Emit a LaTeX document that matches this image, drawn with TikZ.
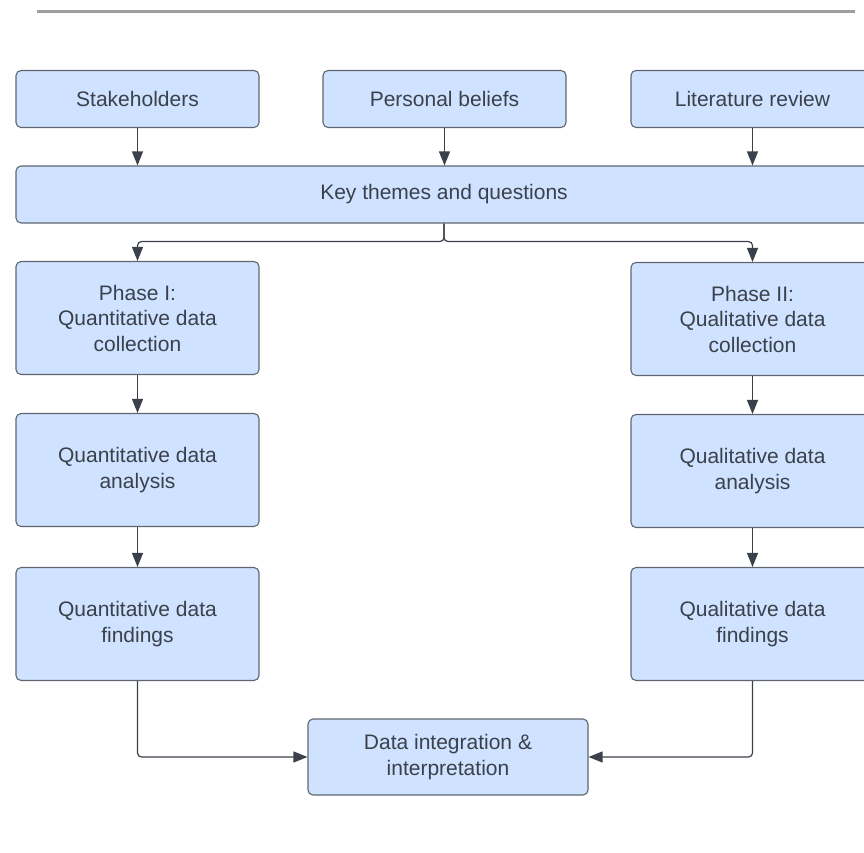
\documentclass[tikz,border=0pt]{standalone}
\usepackage{fontspec}
\setmainfont{Liberation Sans}
\usetikzlibrary{arrows.meta}
\definecolor{boxfill}{HTML}{CFE2FF}
\definecolor{boxline}{HTML}{5F6670}
\definecolor{ink}{HTML}{3B414B}
\definecolor{rulegray}{HTML}{9E9E9E}
\begin{document}
\begin{tikzpicture}[x=1pt,y=-1pt,
  card/.style={draw=boxline, fill=boxfill, line width=1.1pt, rounded corners=5pt,
    minimum width=243pt, minimum height=57pt, inner sep=0pt, align=center,
    text=ink, font=\fontsize{21}{25.5}\selectfont},
  tall/.style={card, minimum height=113pt},
  link/.style={draw=ink, line width=1.2pt, rounded corners=4pt,
    -{Triangle[length=14pt,width=11pt]}}]
\useasboundingbox (0,0) rectangle (864,853);
\clip (0,0) rectangle (864,853);

% header rule
\draw[rulegray, line width=3pt] (37,12) -- (855,12);

% sources
\node[card] (sh) at (137.5,99) {Stakeholders};
\node[card] (pb) at (444.5,99) {Personal beliefs};
\node[card] (lr) at (752.5,99) {Literature review};

% themes
\node[card, minimum width=856pt] (kt) at (444,194.5) {Key themes and questions};

% two phases
\node[tall] (p1) at (137.5,318) {Phase I:\\Quantitative data\\collection};
\node[tall] (qa1) at (137.5,470) {Quantitative data\\analysis};
\node[tall] (f1) at (137.5,624) {Quantitative data\\findings};

\node[tall] (p2) at (752.5,319) {Phase II:\\Qualitative data\\collection};
\node[tall] (qa2) at (752.5,471) {Qualitative data\\analysis};
\node[tall] (f2) at (752.5,624) {Qualitative data\\findings};

% integration
\node[card, minimum width=280pt, minimum height=76pt] (di) at (448,757)
  {Data integration \&\\interpretation};

% connectors
\draw[link] (sh) -- (kt.north -| sh);
\draw[link] (pb) -- (kt.north -| pb);
\draw[link] (lr) -- (kt.north -| lr);

\draw[link] (kt.south) -- ++(0,18) -| (p1.north);
\draw[link] (kt.south) -- ++(0,18) -| (p2.north);

\draw[link] (p1) -- (qa1);
\draw[link] (qa1) -- (f1);
\draw[link] (p2) -- (qa2);
\draw[link] (qa2) -- (f2);

\draw[link] (f1.south) |- (di.west);
\draw[link] (f2.south) |- (di.east);
\end{tikzpicture}
\end{document}
